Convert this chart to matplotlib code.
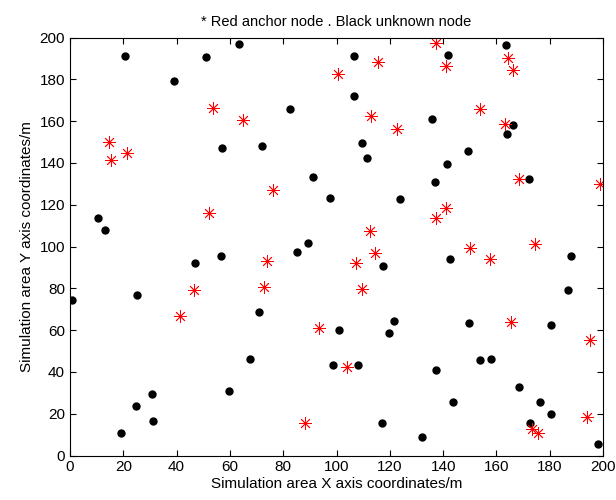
import matplotlib
matplotlib.use("Agg")
import matplotlib.pyplot as plt

# Unknown nodes (black)
unknown_x = [20.6, 50.9, 39.0, 63.3, 57.0, 10.4, 13.1, 106.4, 106.4, 82.4,
             72.1, 109.5, 111.4, 91.1, 97.5, 123.9, 89.2, 141.9, 163.6, 135.9,
             166.2, 164.0, 149.2, 141.4, 136.8, 172.2, 46.8, 56.5, 0.8, 25.1,
             30.7, 24.7, 31.2, 19.1, 59.7, 85.1, 117.4, 70.9, 101.1, 121.4,
             119.7, 67.6, 98.5, 108.2, 117.0, 142.7, 188.0, 187.0, 149.6, 180.6,
             153.7, 157.9, 137.2, 168.6, 143.6, 176.5, 180.6, 172.7, 132.1, 198.1]
unknown_y = [191.2, 190.5, 179.2, 196.9, 147.0, 113.8, 107.9, 191.0, 172.2, 165.6,
             147.9, 149.7, 142.2, 133.3, 123.2, 122.6, 101.5, 191.6, 196.4, 161.0,
             158.0, 153.8, 145.7, 139.6, 130.9, 132.2, 92.1, 95.6, 74.6, 76.8,
             29.6, 23.7, 16.7, 10.8, 30.9, 97.2, 90.8, 68.5, 60.2, 64.4,
             58.5, 46.2, 43.2, 43.2, 15.6, 93.9, 95.6, 79.0, 63.2, 62.6,
             45.5, 46.2, 40.9, 32.6, 25.5, 25.5, 19.7, 15.6, 9.0, 5.5]

# Anchor nodes (red)
anchor_x = [14.6, 15.4, 21.5, 53.5, 52.1, 115.4, 100.5, 65.0, 113.0, 122.7,
            76.0, 112.5, 137.5, 141.0, 164.2, 166.2, 154.0, 163.2, 168.4, 198.7,
            141.2, 137.5, 150.2, 174.5, 46.6, 41.1, 74.1, 107.4, 114.6, 72.7,
            109.5, 93.5, 104.0, 88.2, 157.5, 165.6, 195.1, 193.9, 173.2, 175.7]
anchor_y = [149.9, 141.5, 144.6, 166.3, 115.9, 188.4, 182.4, 160.5, 162.3, 156.2,
            126.9, 107.4, 197.5, 186.4, 190.3, 184.4, 165.6, 158.6, 132.2, 129.8,
            118.6, 113.5, 99.1, 101.0, 79.2, 66.7, 93.2, 92.1, 96.7, 80.8,
            79.8, 60.9, 42.5, 15.6, 93.9, 64.0, 55.3, 18.6, 12.5, 10.9]

plt.rcParams["font.family"] = ["Liberation Sans", "DejaVu Sans"]

fig = plt.figure(figsize=(6.16, 5.0), dpi=100)
ax = fig.add_axes([0.1136, 0.089, 0.8654, 0.836])

ax.plot(unknown_x, unknown_y, "o", color="black", markersize=5, linestyle="none")
ax.plot(anchor_x, anchor_y, marker=(8, 2, 0), color="red", markersize=9,
        markeredgewidth=0.6, linestyle="none")

ax.set_xlim(0, 200)
ax.set_ylim(0, 200)
ax.set_xticks(range(0, 201, 20))
ax.set_yticks(range(0, 201, 20))
ax.tick_params(direction="in", top=True, right=True, length=4, labelsize=11)

ax.set_xlabel("Simulation area X axis coordinates/m", fontsize=11, labelpad=2)
ax.set_ylabel("Simulation area Y axis coordinates/m", fontsize=11)
ax.set_title("* Red anchor node . Black unknown node", fontsize=10.5, pad=8)

fig.savefig("out.png", dpi=100)
plt.close()
